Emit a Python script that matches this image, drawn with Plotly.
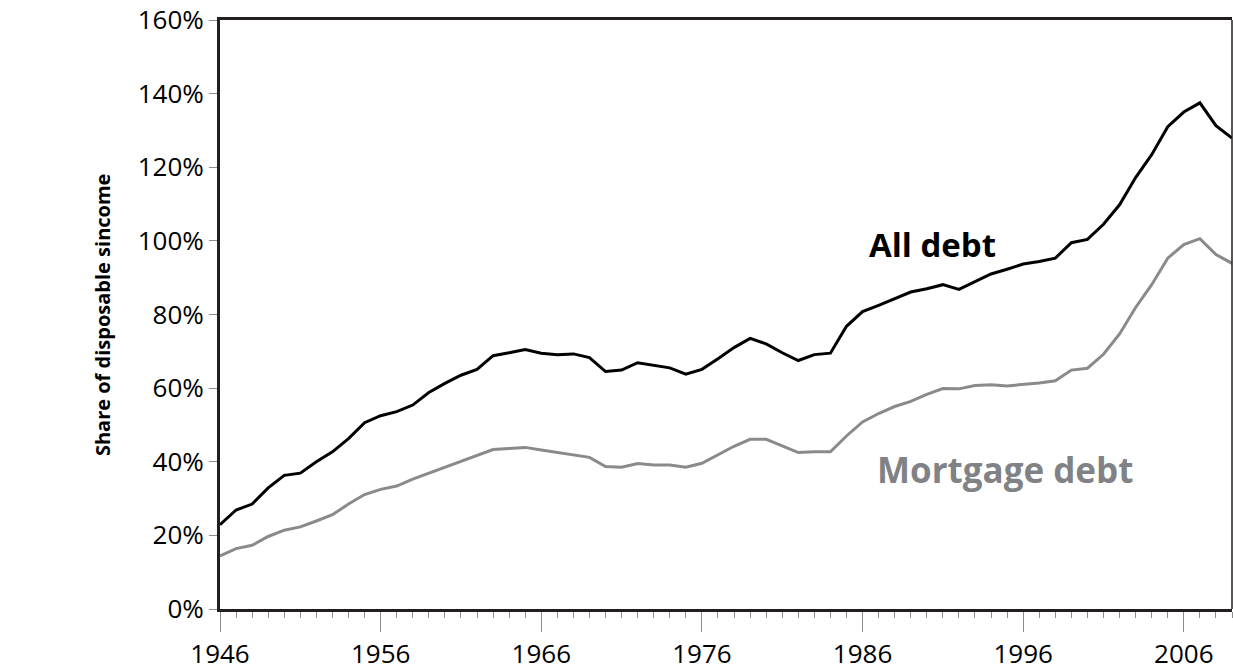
import plotly.graph_objects as go

years = list(range(1946, 2010))

all_debt = [22.9, 26.9, 28.5, 32.9, 36.3, 36.9, 40.0, 42.7, 46.3, 50.6,
            52.5, 53.6, 55.4, 58.8, 61.3, 63.5, 65.1, 68.8, 69.6, 70.5,
            69.5, 69.1, 69.3, 68.3, 64.5, 64.9, 66.9, 66.1, 65.5, 63.8,
            65.1, 68.0, 71.0, 73.5, 72.0, 69.6, 67.5, 69.1, 69.5, 76.8,
            80.8, 82.5, 84.2, 86.1, 87.0, 88.1, 86.8, 89.0, 91.0, 92.3,
            93.7, 94.4, 95.3, 99.5, 100.4, 104.5, 109.8, 117.2, 123.4, 131.0,
            135.0, 137.5, 131.3, 127.9]

mortgage_debt = [14.4, 16.4, 17.3, 19.7, 21.4, 22.3, 23.9, 25.6, 28.5, 31.1,
                 32.5, 33.4, 35.3, 36.9, 38.5, 40.1, 41.5, 43.3, 43.6, 43.9,
                 43.2, 42.6, 42.0, 41.2, 38.7, 38.5, 39.5, 39.1, 39.1, 38.5,
                 39.6, 42.0, 44.2, 46.1, 46.1, 44.3, 42.5, 42.7, 42.7, 47.0,
                 50.8, 53.1, 55.0, 56.4, 58.3, 59.9, 59.8, 60.7, 60.9, 60.6,
                 60.9, 61.4, 62.0, 64.9, 65.4, 69.2, 74.7, 81.9, 88.1, 95.3,
                 99.0, 100.6, 96.3, 93.9]

y_ticks = [0, 20, 40, 60, 80, 100, 120, 140, 160]
y_tick_labels = [f"{v}%" for v in y_ticks]
x_ticks = [1946, 1956, 1966, 1976, 1986, 1996, 2006]

BLACK = "#000000"
GRAY = "#8a8a8c"
AXIS = "#231f20"
TICK = "#8c8c8c"
FONT = "Open Sans"

fig = go.Figure()
fig.add_trace(go.Scatter(x=years, y=mortgage_debt, mode="lines",
                         line=dict(color=GRAY, width=3), name="Mortgage debt",
                         showlegend=False))
fig.add_trace(go.Scatter(x=years, y=all_debt, mode="lines",
                         line=dict(color=BLACK, width=3), name="All debt",
                         showlegend=False))

fig.update_layout(
    width=1233, height=672,
    margin=dict(l=220, r=1, t=15, b=60),
    paper_bgcolor="white", plot_bgcolor="white",
    font=dict(family=FONT, color="black", size=26),
)

fig.update_xaxes(
    range=[1946, 2009],
    tickmode="array", tickvals=x_ticks, ticktext=[str(v) for v in x_ticks],
    ticks="outside", ticklen=20, tickwidth=1, tickcolor=TICK,
    showline=True, linecolor=AXIS, linewidth=3, mirror=True,
    showgrid=False, zeroline=False, ticklabeloverflow="allow",
    minor=dict(dtick=1, tick0=1946, ticks="outside", ticklen=6,
               tickwidth=1, tickcolor=TICK, showgrid=False),
    tickfont=dict(family=FONT, size=26, color="black"),
)
fig.update_yaxes(
    range=[0, 160],
    tickmode="array", tickvals=y_ticks, ticktext=y_tick_labels,
    ticks="outside", ticklen=8, tickwidth=1, tickcolor=TICK,
    showline=True, linecolor=AXIS, linewidth=3,
    showgrid=False, zeroline=False, ticklabeloverflow="allow",
    tickfont=dict(family=FONT, size=26, color="black"),
)

# thin right border
fig.add_shape(type="line", xref="paper", yref="paper", x0=1, x1=1, y0=0, y1=1,
              line=dict(color=AXIS, width=1.5))

fig.add_annotation(x=1990.35, y=99, xref="x", yref="y", text="<b>All debt</b>",
                   showarrow=False, font=dict(family=FONT, size=33, color=BLACK),
                   xanchor="center", yanchor="middle")
fig.add_annotation(x=1994.85, y=38.0, xref="x", yref="y", text="<b>Mortgage debt</b>",
                   showarrow=False, font=dict(family=FONT, size=35, color="#808285"),
                   xanchor="center", yanchor="middle")
fig.add_annotation(x=-0.116, y=0.5, xref="paper", yref="paper",
                   text="<b>Share of disposable sincome</b>", textangle=-90,
                   showarrow=False, font=dict(family=FONT, size=20, color="black"),
                   xanchor="center", yanchor="middle")

fig.write_html("out.html",
               config={"displayModeBar": False},
               post_script="document.body.style.margin='0';document.body.style.overflow='hidden';")
